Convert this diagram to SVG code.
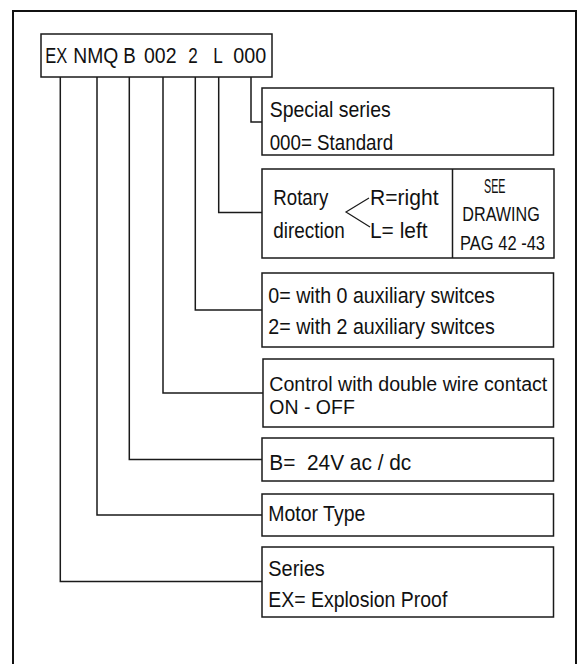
<svg xmlns="http://www.w3.org/2000/svg" width="582" height="664" viewBox="0 0 582 664">
<style>
.frame{fill:none;stroke:#111;stroke-width:2}
.box{fill:#fff;stroke:#1a1a1a;stroke-width:1.5}
.ln{fill:none;stroke:#1a1a1a;stroke-width:1.5}
text{font-family:"Liberation Sans Narrow","Arial Narrow","Liberation Sans",Arial,sans-serif;font-size:22px;fill:#111}
.sm{font-size:20px}
.tight{font-size:20px}
</style>
<rect width="582" height="664" fill="#fff"/>
<rect class="frame" x="13" y="11" width="563" height="670"/>
<g id="code">
<rect class="box" x="41" y="34" width="231" height="43"/>
<text x="45.3" y="63" textLength="22" lengthAdjust="spacingAndGlyphs">EX</text>
<text x="73.3" y="63" textLength="45" lengthAdjust="spacingAndGlyphs">NMQ</text>
<text x="123.3" y="63" textLength="12.5" lengthAdjust="spacingAndGlyphs">B</text>
<text x="144" y="63" textLength="32.5" lengthAdjust="spacingAndGlyphs">002</text>
<text x="188.3" y="63" textLength="9.5" lengthAdjust="spacingAndGlyphs">2</text>
<text x="213.3" y="63" textLength="9.5" lengthAdjust="spacingAndGlyphs">L</text>
<text x="233.3" y="63" textLength="33" lengthAdjust="spacingAndGlyphs">000</text>
</g>
<g id="connectors">
<polyline class="ln" points="251,77 251,122 262,122"/>
<polyline class="ln" points="218.7,77 218.7,212.5 262,212.5"/>
<polyline class="ln" points="195.3,77 195.3,310 262,310"/>
<polyline class="ln" points="163,77 163,393 263,393"/>
<polyline class="ln" points="129.3,77 129.3,459.5 262,459.5"/>
<polyline class="ln" points="97,77 97,515 262,515"/>
<polyline class="ln" points="60.3,77 60.3,581.5 262,581.5"/>
</g>
<g id="special">
<rect class="box" x="262" y="88" width="291.5" height="67"/>
<text x="269.7" y="117.3" textLength="121" lengthAdjust="spacingAndGlyphs">Special series</text>
<text x="269.7" y="150" textLength="123.5" lengthAdjust="spacingAndGlyphs">000= Standard</text>
</g>
<g id="rotary">
<rect class="box" x="262" y="169" width="292" height="89"/>
<line class="ln" x1="452.5" y1="169" x2="452.5" y2="258"/>
<text x="273.3" y="205" textLength="55" lengthAdjust="spacingAndGlyphs">Rotary</text>
<text x="273.3" y="237.7" textLength="71.5" lengthAdjust="spacingAndGlyphs">direction</text>
<polyline fill="none" stroke="#1a1a1a" stroke-width="1.2" points="369,198 346,212 370,227"/>
<text x="370" y="205" textLength="68.5" lengthAdjust="spacingAndGlyphs">R=right</text>
<text x="370" y="237.7" textLength="57.5" lengthAdjust="spacingAndGlyphs">L= left</text>
<text class="sm" x="484" y="193.3" textLength="21.5" lengthAdjust="spacingAndGlyphs">SEE</text>
<text class="sm" x="462.3" y="221" textLength="77.5" lengthAdjust="spacingAndGlyphs">DRAWING</text>
<text class="sm" x="460" y="250" textLength="85" lengthAdjust="spacingAndGlyphs">PAG 42 -43</text>
</g>
<g id="aux">
<rect class="box" x="262" y="273" width="291.5" height="74"/>
<text x="268.3" y="303.3" textLength="226.5" lengthAdjust="spacingAndGlyphs">0= with 0 auxiliary switces</text>
<text x="268.3" y="334" textLength="226.5" lengthAdjust="spacingAndGlyphs">2= with 2 auxiliary switces</text>
</g>
<g id="control">
<rect class="box" x="263" y="359" width="290.5" height="68"/>
<text class="tight" x="269.3" y="391" textLength="278" lengthAdjust="spacingAndGlyphs">Control with double wire contact</text>
<text class="tight" x="269.3" y="414" textLength="85.5" lengthAdjust="spacingAndGlyphs">ON - OFF</text>
</g>
<g id="voltage">
<rect class="box" x="262" y="438" width="291.5" height="43"/>
<text x="269.3" y="470" textLength="142" lengthAdjust="spacingAndGlyphs" xml:space="preserve">B=  24V ac / dc</text>
</g>
<g id="motor">
<rect class="box" x="262" y="494" width="291.5" height="42"/>
<text x="268.3" y="521" textLength="97" lengthAdjust="spacingAndGlyphs">Motor Type</text>
</g>
<g id="series">
<rect class="box" x="262" y="547" width="291.5" height="70"/>
<text x="268.3" y="576" textLength="56.5" lengthAdjust="spacingAndGlyphs">Series</text>
<text x="268.3" y="607.3" textLength="179" lengthAdjust="spacingAndGlyphs">EX= Explosion Proof</text>
</g>
</svg>
